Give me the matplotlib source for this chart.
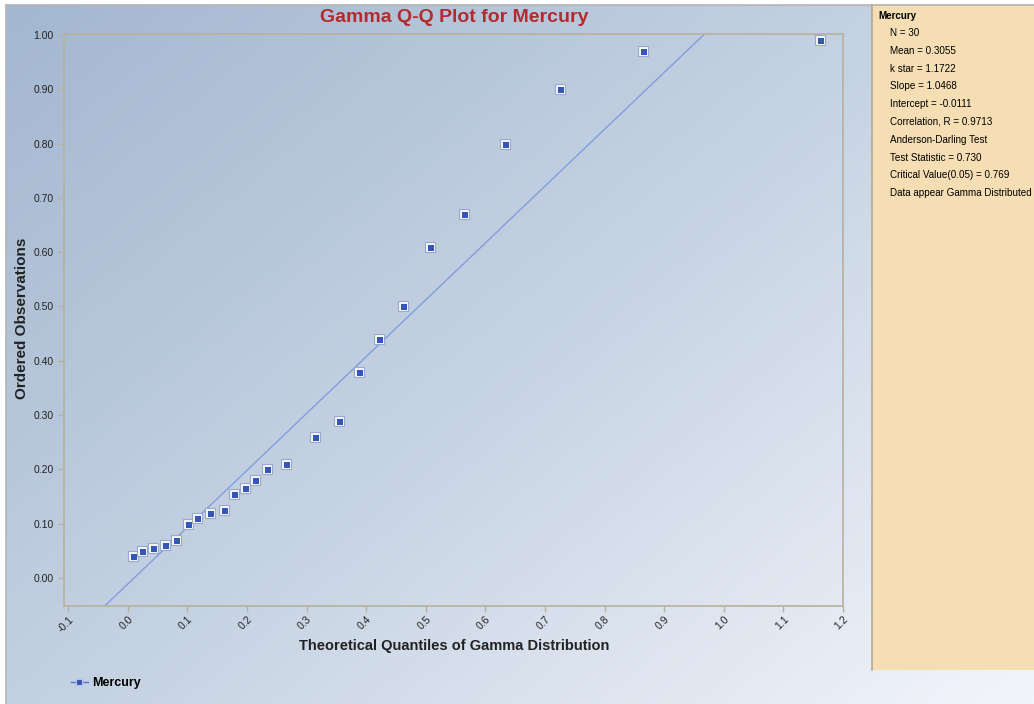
import numpy as np
import matplotlib.pyplot as plt
from matplotlib.colors import LinearSegmentedColormap
from matplotlib.lines import Line2D
from matplotlib.patches import Rectangle
import matplotlib.transforms as mtransforms

plt.rcParams['font.family'] = ['Liberation Sans', 'DejaVu Sans']

# theoretical gamma quantiles and ordered mercury observations
theo_q = [0.0094, 0.0235, 0.042, 0.062, 0.0816, 0.1017, 0.1168, 0.1386, 0.1621,
          0.1784, 0.1969, 0.2142, 0.2343, 0.2657, 0.3144, 0.3552, 0.3877, 0.4223,
          0.4626, 0.5079, 0.5645, 0.6333, 0.7256, 0.8649, 1.162]
obs = [0.04, 0.05, 0.055, 0.06, 0.07, 0.10, 0.11, 0.12, 0.125,
       0.155, 0.165, 0.18, 0.20, 0.21, 0.26, 0.29, 0.38, 0.44,
       0.50, 0.61, 0.67, 0.80, 0.90, 0.97, 0.99]

slope = 1.0468
intercept = -0.0111

stats_lines = ['N = 30', 'Mean = 0.3055', 'k star = 1.1722', 'Slope = 1.0468',
               'Intercept = -0.0111', 'Correlation, R = 0.9713',
               'Anderson-Darling Test', 'Test Statistic = 0.730',
               'Critical Value(0.05) = 0.769', 'Data appear Gamma Distributed']

xticks = [-0.1, 0.0, 0.1, 0.2, 0.3, 0.4, 0.5, 0.6, 0.7, 0.8, 0.9, 1.0, 1.1, 1.2]
yticks = [0.0, 0.1, 0.2, 0.3, 0.4, 0.5, 0.6, 0.7, 0.8, 0.9, 1.0]

W, H = 1034, 704
fig = plt.figure(figsize=(W / 100, H / 100), dpi=100)
fig.patch.set_facecolor('white')

def fx(px):
    return px / W

def fy(py):
    return 1 - py / H

# diagonal gradient background
bg = fig.add_axes([fx(6), 0, 1 - fx(6), fy(5)], zorder=-2)
u = np.linspace(0, 1, 400)
v = np.linspace(0, 1, 300)
U, V = np.meshgrid(u, v)
grad = 0.55 * U + 0.45 * V
cmap = LinearSegmentedColormap.from_list('bg', ['#a3b7d0', '#c6d3e3', '#f3f5fb'])
bg.imshow(grad, cmap=cmap, aspect='auto', extent=[0, 1, 1, 0], interpolation='bilinear')
bg.set_xlim(0, 1)
bg.set_ylim(1, 0)
bg.axis('off')

# frame lines on left and top
fig.add_artist(Line2D([fx(6), fx(6)], [0, fy(5)], color='#b4b4b4', lw=1.2))
fig.add_artist(Line2D([fx(6), 1], [fy(5), fy(5)], color='#b4b4b4', lw=1.2))

# statistics panel
fig.add_artist(Rectangle((fx(872), fy(670)), 1 - fx(872), fy(5) - fy(670),
                         facecolor='#f5deb3', edgecolor='none', zorder=1))
fig.add_artist(Line2D([fx(872), fx(872)], [fy(670), fy(5)], color='#b0a99e', lw=1.2, zorder=2))
fig.text(fx(878), fy(16), 'Mercury', fontsize=7, fontweight='bold', va='center', zorder=3)
for i, s in enumerate(stats_lines):
    fig.text(fx(890), fy(33 + i * 17.8), s, fontsize=7.1, va='center', zorder=3)

ax = fig.add_axes([fx(64), fy(606), fx(843) - fx(64), fy(34) - fy(606)])
ax.patch.set_alpha(0)
ax.set_xlim(-0.107, 1.2)
ax.set_ylim(-0.0516, 1.0018)

xs = np.array([-0.2, 1.3])
ax.plot(xs, intercept + slope * xs, color='#829de0', lw=1, zorder=2)

# square markers with a light bevel
ax.plot(theo_q, obs, ls='none', marker='s', ms=7, mfc='#f4f6fc', mec='#9aa8cc',
        mew=0.8, zorder=3)
shift = mtransforms.offset_copy(ax.transData, fig=fig, x=1.0, y=-1.0, units='dots')
ax.plot(theo_q, obs, ls='none', marker='s', ms=4.6, mfc='#3556b8', mec='#3556b8',
        mew=0, transform=shift, zorder=4)

ax.set_xticks(xticks)
ax.set_xticklabels(['%.1f' % t for t in xticks], rotation=45, ha='right',
                   rotation_mode='anchor', fontsize=7.5, color='#222222')
ax.set_yticks(yticks)
ax.set_yticklabels(['%.2f' % t for t in yticks], fontsize=7.5, color='#222222')
ax.tick_params(axis='both', color='#b8b19c', length=4, width=1)
ax.tick_params(axis='x', pad=2)
for sp in ax.spines.values():
    sp.set_color('#b8b19c')
    sp.set_linewidth(1.2)

fig.text(fx(454), fy(17), 'Gamma Q-Q Plot for Mercury', fontsize=14,
         fontweight='bold', color='#b22b2e', ha='center', va='center')
fig.text(fx(454), fy(646), 'Theoretical Quantiles of Gamma Distribution',
         fontsize=10.5, fontweight='bold', color='#222222', ha='center', va='center')
fig.text(fx(22), fy(318), 'Ordered Observations', fontsize=11, fontweight='bold',
         color='#222222', rotation=90, ha='center', va='center')

handle = Line2D([], [], color='#5a78cc', lw=1, marker='s', ms=5, mfc='#3556b8',
                mec='#b8c4e4', mew=0.8)
fig.legend([handle], ['Mercury'], loc='center left', bbox_to_anchor=(fx(60), fy(683)),
           frameon=False, handlelength=1.3, handletextpad=0.35,
           prop={'weight': 'bold', 'size': 9})

fig.savefig('out.png', dpi=100)
